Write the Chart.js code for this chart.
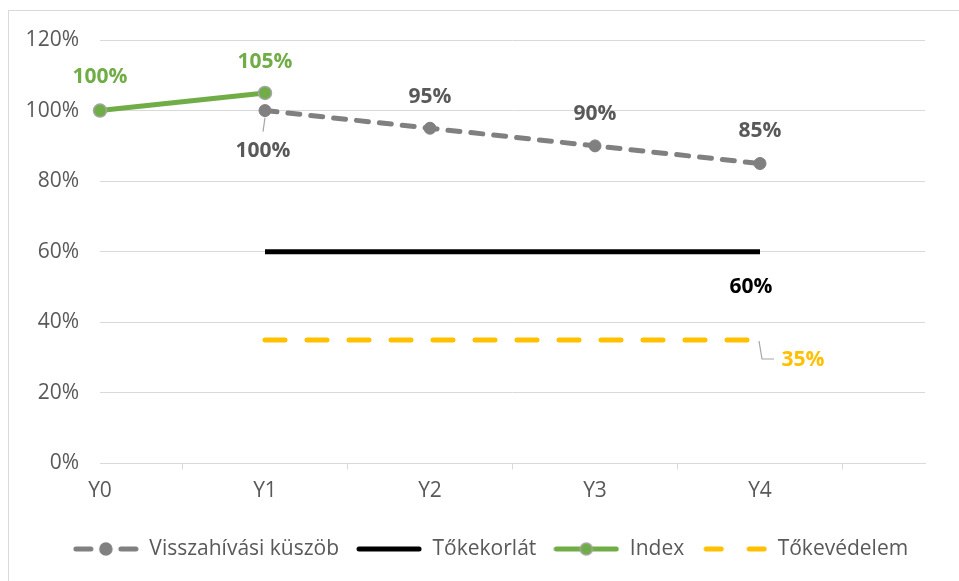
<!DOCTYPE html>
<html>
<head>
<meta charset="utf-8">
<script src="https://cdn.jsdelivr.net/npm/chart.js@4.4.1/dist/chart.umd.min.js"></script>
<style>
  html, body { margin: 0; padding: 0; background: #fff; }
  #wrap { width: 959px; height: 581px; position: relative; }
</style>
</head>
<body>
<div id="wrap"><canvas id="chart" width="959" height="581"></canvas></div>
<script>
// adatok
const categories = ['Y0', 'Y1', 'Y2', 'Y3', 'Y4', ''];
const kuszob = [null, 100, 95, 90, 85, null];
const tokekorlat = [null, 60, 60, 60, 60, null];
const indexValues = [100, 105, null, null, null, null];
const tokevedelem = [null, 35, 35, 35, 35, null];
const yTickValues = [0, 20, 40, 60, 80, 100, 120];

const FONT = "'Open Sans', 'DejaVu Sans', sans-serif";
const FS = 21;
const GRAY = '#808080';
const GREEN = '#70AD47';
const GOLD = '#FFC000';

// kis vászon a jelmagyarázat mintáihoz
function legendSample(draw) {
    const c = document.createElement('canvas');
    c.width = 66; c.height = 16;
    const g = c.getContext('2d');
    g.lineCap = 'round';
    draw(g);
    return c;
}
function seg(g, x1, x2, color) {
    g.strokeStyle = color; g.lineWidth = 5;
    g.beginPath(); g.moveTo(x1, 8); g.lineTo(x2, 8); g.stroke();
}
function dot(g, x, fill, border) {
    g.beginPath(); g.arc(x, 8, 6, 0, Math.PI * 2);
    g.fillStyle = fill; g.fill();
    g.lineWidth = 1.5; g.strokeStyle = border; g.stroke();
}
const samples = [
    legendSample(g => { seg(g, 3, 18, GRAY); seg(g, 48, 63, GRAY); dot(g, 33, GRAY, GRAY); }),
    legendSample(g => { seg(g, 3, 63, '#000'); }),
    legendSample(g => { seg(g, 3, 63, GREEN); dot(g, 33, GREEN, '#A5A5A5'); }),
    legendSample(g => { seg(g, 5, 20, GOLD); seg(g, 48, 63, GOLD); })
];

// adatcímkék rajzolása
const labelPlugin = {
    id: 'pointLabels',
    afterLayout(chart) {
        // a jelmagyarázat kicsit jobbra van, mint a rajzterület közepe
        const lg = chart.legend;
        lg.left += 28;
        lg.right += 28;
    },
    beforeDraw(chart) {
        const ctx = chart.ctx;
        ctx.save();
        ctx.strokeStyle = '#d9d9d9';
        ctx.lineWidth = 1;
        ctx.strokeRect(8.5, 10.5, 1000, 1000);
        ctx.restore();
    },
    afterDatasetsDraw(chart) {
        const ctx = chart.ctx;
        chart.data.datasets.forEach((ds, di) => {
            const meta = chart.getDatasetMeta(di);
            (ds.pointLabels || []).forEach(l => {
                const pt = meta.data[l.i];
                if (!pt) return;
                const v = ds.data[l.i];
                ctx.save();
                if (l.leader) {
                    ctx.strokeStyle = '#A6A6A6';
                    ctx.lineWidth = 1.2;
                    ctx.beginPath();
                    l.leader.forEach((p, k) => {
                        if (k === 0) ctx.moveTo(pt.x + p[0], pt.y + p[1]);
                        else ctx.lineTo(pt.x + p[0], pt.y + p[1]);
                    });
                    ctx.stroke();
                }
                ctx.font = 'bold ' + FS + 'px ' + FONT;
                ctx.fillStyle = l.color;
                ctx.textAlign = 'center';
                ctx.textBaseline = 'middle';
                ctx.fillText(v + '%', pt.x + l.dx, pt.y + l.dy);
                ctx.restore();
            });
        });
    }
};

const ctx = document.getElementById('chart').getContext('2d');
const myChart = new Chart(ctx, {
    type: 'line',
    data: {
        labels: categories,
        datasets: [
            {
                label: 'Visszahívási küszöb',
                data: kuszob,
                borderColor: GRAY,
                borderWidth: 5,
                borderDash: [12, 11],
                borderCapStyle: 'round',
                pointRadius: 6,
                pointBackgroundColor: GRAY,
                pointBorderColor: GRAY,
                pointBorderWidth: 1,
                pointLabels: [
                    { i: 1, dx: -2, dy: 40, color: '#595959', leader: [[0, 7], [-2, 21]] },
                    { i: 2, dx: 0, dy: -31, color: '#595959' },
                    { i: 3, dx: 0, dy: -32, color: '#595959' },
                    { i: 4, dx: 0, dy: -33, color: '#595959' }
                ]
            },
            {
                label: 'Tőkekorlát',
                data: tokekorlat,
                borderColor: '#000000',
                borderWidth: 5,
                pointRadius: 0,
                pointLabels: [{ i: 4, dx: -9, dy: 35, color: '#000000' }]
            },
            {
                label: 'Index',
                data: indexValues,
                borderColor: GREEN,
                borderWidth: 5,
                pointRadius: 6.5,
                pointBackgroundColor: GREEN,
                pointBorderColor: '#A5A5A5',
                pointBorderWidth: 1.5,
                pointLabels: [
                    { i: 0, dx: 0, dy: -34, color: GREEN },
                    { i: 1, dx: 0, dy: -31, color: GREEN }
                ]
            },
            {
                label: 'Tőkevédelem',
                data: tokevedelem,
                borderColor: GOLD,
                borderWidth: 5,
                borderDash: [20, 22],
                borderDashOffset: 0,
                borderCapStyle: 'round',
                pointRadius: 0,
                pointLabels: [{ i: 4, dx: 43, dy: 20, color: GOLD, leader: [[-1, 1], [2, 19], [14, 19]] }]
            }
        ]
    },
    options: {
        responsive: false,
        animation: false,
        layout: { padding: { top: 40, right: 34, bottom: 11.5, left: 0 } },
        scales: {
            x: {
                offset: false,
                grid: { offset: true, drawOnChartArea: false, drawTicks: true, tickLength: 6, color: '#d9d9d9' },
                border: { display: true, color: '#d9d9d9', width: 1 },
                ticks: { color: '#595959', font: { family: FONT, size: FS }, padding: 9, maxRotation: 0, autoSkip: false },
                afterFit(scale) { scale.height = 58; }
            },
            y: {
                min: 0,
                max: 120,
                afterBuildTicks(scale) { scale.ticks = yTickValues.map(v => ({ value: v })); },
                grid: { color: '#d9d9d9', drawTicks: false },
                border: { display: false },
                ticks: {
                    color: '#595959',
                    font: { family: FONT, size: FS },
                    padding: 21,
                    callback: v => v + '%'
                },
                afterFit(scale) { scale.width = 100; }
            }
        },
        plugins: {
            legend: {
                position: 'bottom',
                labels: {
                    usePointStyle: true,
                    pointStyleWidth: 66,
                    padding: 17,
                    color: '#595959',
                    font: { family: FONT, size: FS },
                    generateLabels(chart) {
                        return chart.data.datasets.map((ds, i) => ({
                            text: ds.label,
                            pointStyle: samples[i],
                            fontColor: '#595959',
                            datasetIndex: i
                        }));
                    }
                }
            },
            tooltip: { enabled: false }
        }
    },
    plugins: [labelPlugin]
});
</script>
</body>
</html>
